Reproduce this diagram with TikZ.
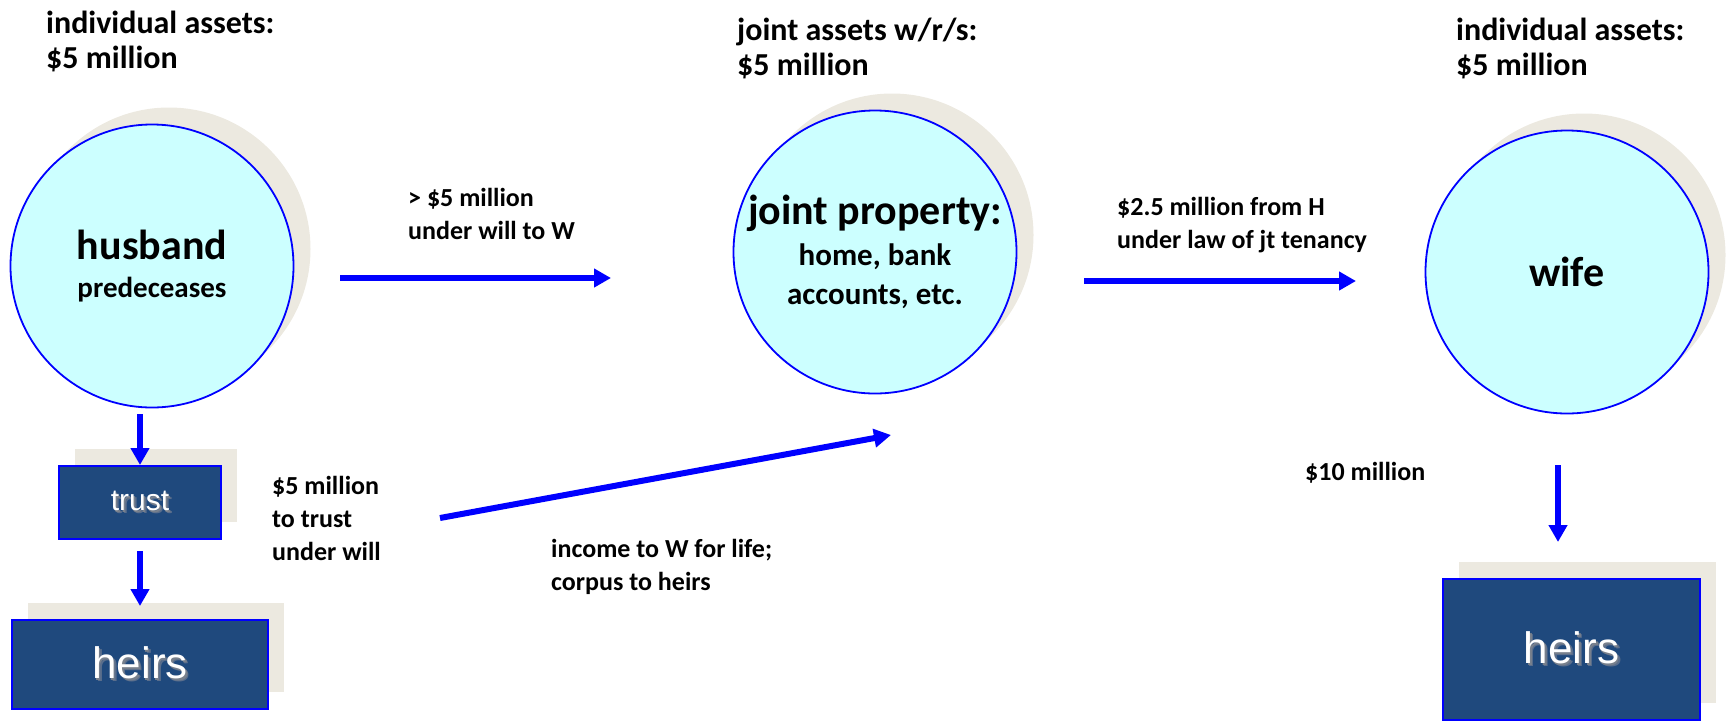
\documentclass[tikz,border=0pt]{standalone}
\usepackage{fontspec}
\setmainfont{Carlito}
\newfontfamily\arialfont{Liberation Sans}
\usetikzlibrary{arrows.meta,shadows,calc,positioning}

\definecolor{circfill}{RGB}{204,255,255}
\definecolor{shadegray}{RGB}{236,233,224}
\definecolor{boxblue}{RGB}{31,73,125}
\definecolor{arrowblue}{RGB}{0,0,255}
\definecolor{textshade}{RGB}{120,128,140}
\definecolor{textblur}{RGB}{90,110,140}

\newcommand{\embossed}[1]{\rlap{\hspace{3pt}\raisebox{-3pt}{\textcolor{textblur}{#1}}}\rlap{\hspace{1.5pt}\raisebox{-1.5pt}{\textcolor{textshade}{#1}}}\textcolor{white}{#1}}

\tikzset{
  party/.style={circle, draw=arrowblue, line width=1.8pt, fill=circfill, minimum size=283pt, inner sep=0pt, align=center,
    drop shadow={shadow xshift=17pt, shadow yshift=17pt, fill=shadegray, opacity=1}},
  outcome/.style={rectangle, draw=arrowblue, line width=2pt, fill=boxblue, inner sep=0pt, font=\arialfont,
    drop shadow={shadow xshift=16pt, shadow yshift=17pt, fill=shadegray, opacity=1}},
  flow/.style={draw=arrowblue, line width=6pt, -{Triangle[length=17pt,width=18pt]}},
  note/.style={align=left, anchor=north west, inner sep=0pt, font=\bfseries\fontsize{26}{33}\selectfont},
  heading/.style={align=left, anchor=north west, inner sep=0pt, font=\bfseries\fontsize{32}{35}\selectfont}
}

\begin{document}
\begin{tikzpicture}[x=1pt,y=-1pt]
\useasboundingbox (0,0) rectangle (1729,721);

\node[heading] (assetsh) at (46,11) {individual assets:\\\$5 million};
\node[heading] (assetsj) at (737,18) {joint assets w/r/s:\\\$5 million};
\node[heading] (assetsw) at (1456,18) {individual assets:\\\$5 million};

\node[party, font=\bfseries\fontsize{29}{38}\selectfont] (husband) at (152,266) {{\fontsize{42}{44}\selectfont husband}\\predeceases};
\node[party, font=\bfseries\fontsize{31}{39}\selectfont] (joint) at (875,252) {{\fontsize{42}{44}\selectfont joint property:}\\[2pt]home, bank\\accounts, etc.};
\node[party, font=\bfseries\fontsize{42}{44}\selectfont] (wife) at (1567,272) {wife};

\node[outcome, minimum width=162pt, minimum height=73pt, font=\arialfont\fontsize{30}{32}\selectfont] (trust) at (140,502.5) {\embossed{trust}};
\node[outcome, minimum width=256pt, minimum height=89pt, font=\arialfont\fontsize{44}{46}\selectfont] (heirsh) at (140,664.5) {\embossed{heirs}};
\node[outcome, minimum width=257pt, minimum height=141pt, font=\arialfont\fontsize{44}{46}\selectfont] (heirsw) at (1571.5,649.5) {\embossed{heirs}};

\node[note] (willnote) at (408,188) {> \$5 million\\under will to W};
\node[note] (tenancynote) at (1117,197) {\$2.5 million from H\\under law of jt tenancy};
\node[note] (trustnote) at (272,476) {\$5 million\\to trust\\under will};
\node[note] (incomenote) at (551,539) {income to W for life;\\corpus to heirs};
\node[note] (estatenote) at (1305,462) {\$10 million};

\coordinate (willstart) at (340,278);
\coordinate (willend) at (611,278);
\coordinate (jtstart) at (1084,281);
\coordinate (jtend) at (1356,281);
\coordinate (corpusstart) at (440,518);
\coordinate (corpusend) at (891,435);
\coordinate (estatestart) at (1558,465);
\coordinate (estateend) at (1558,542);

\draw[flow] ($(trust.north |- husband.south)+(0,6)$) -- (trust.north);
\draw[flow] ($(trust.south)+(0,11)$) -- ($(heirsh.north)+(0,-13)$);
\draw[flow] (willstart) -- (willend);
\draw[flow] (jtstart) -- (jtend);
\draw[flow] (corpusstart) -- (corpusend);
\draw[flow] (estatestart) -- (estateend);
\end{tikzpicture}
\end{document}
